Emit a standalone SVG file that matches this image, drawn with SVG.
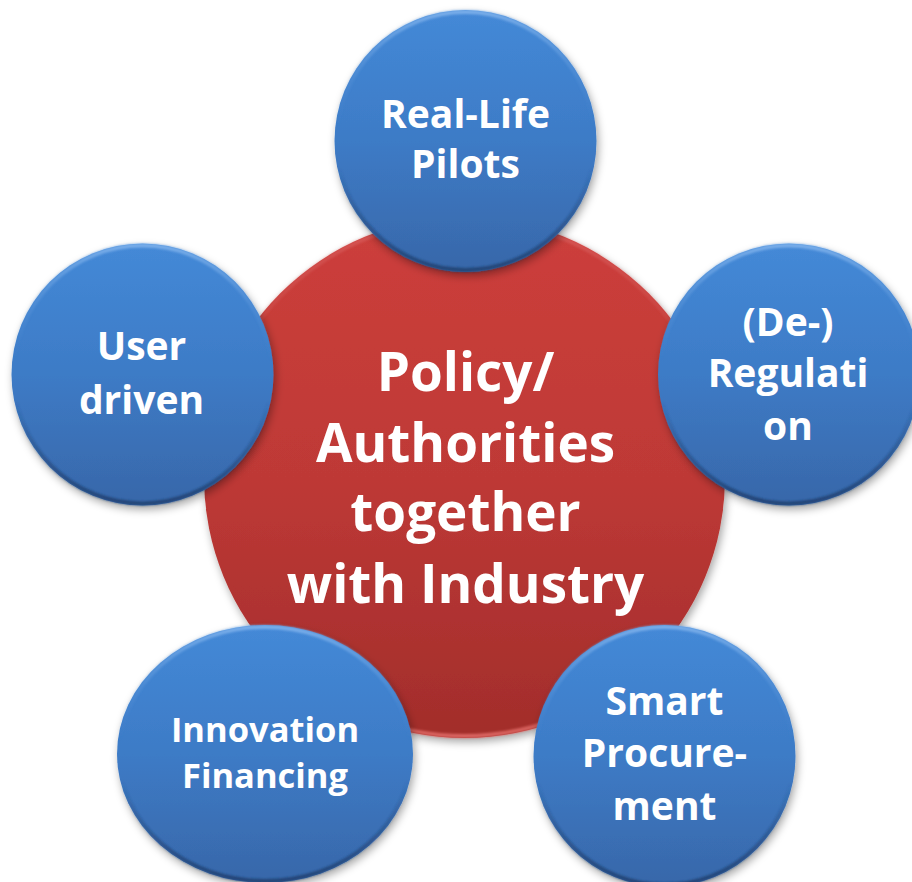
<svg xmlns="http://www.w3.org/2000/svg" width="912" height="882" viewBox="0 0 912 882">
  <defs>
    <linearGradient id="gBlue" x1="0" y1="0" x2="0" y2="1">
      <stop offset="0" stop-color="#4489D7"/>
      <stop offset="0.5" stop-color="#3D7BC6"/>
      <stop offset="1" stop-color="#3867A9"/>
    </linearGradient>
    <linearGradient id="gRed" x1="0" y1="0" x2="0" y2="1">
      <stop offset="0" stop-color="#CD3F3B"/>
      <stop offset="0.5" stop-color="#BE3936"/>
      <stop offset="1" stop-color="#A22D2B"/>
    </linearGradient>
    <linearGradient id="gBevelBlue" x1="0" y1="0" x2="0" y2="1">
      <stop offset="0" stop-color="#7FB2EC" stop-opacity="0.9"/>
      <stop offset="0.45" stop-color="#3F80CC" stop-opacity="0"/>
      <stop offset="0.6" stop-color="#1E3F6E" stop-opacity="0"/>
      <stop offset="1" stop-color="#1E3F6E" stop-opacity="0.85"/>
    </linearGradient>
    <linearGradient id="gBevelRed" x1="0" y1="0" x2="0" y2="1">
      <stop offset="0" stop-color="#E07070" stop-opacity="0.5"/>
      <stop offset="0.5" stop-color="#C03A36" stop-opacity="0"/>
      <stop offset="0.85" stop-color="#E06A66" stop-opacity="0"/>
      <stop offset="1" stop-color="#E06A66" stop-opacity="0.9"/>
    </linearGradient>
    <filter id="shadow" x="-20%" y="-20%" width="140%" height="140%">
      <feDropShadow dx="2" dy="4" stdDeviation="4" flood-color="#000" flood-opacity="0.35"/>
    </filter>
    <filter id="soft" x="-10%" y="-10%" width="120%" height="120%">
      <feGaussianBlur stdDeviation="1.2"/>
    </filter>
  </defs>
  <style>
    .blue { fill: url(#gBlue); filter: url(#shadow); }
    .red { fill: url(#gRed); filter: url(#shadow); }
    .bevB { fill: none; stroke: url(#gBevelBlue); stroke-width: 4; filter: url(#soft); }
    .bevR { fill: none; stroke: url(#gBevelRed); stroke-width: 4; filter: url(#soft); }
    text { font-family: "Open Sans", "Liberation Sans", sans-serif; font-weight: bold; fill: #FFFFFF; text-anchor: middle; }
    .big { font-size: 53px; }
    .mid { font-size: 39px; }
    .sm { font-size: 34.5px; }
  </style>

  <g id="center">
    <circle class="red" cx="464.5" cy="477.5" r="260.5"/>
    <circle class="bevR" cx="464.5" cy="477.5" r="258.5"/>
    <text class="big" x="465.5" y="391">Policy/</text>
    <text class="big" x="465.5" y="462">Authorities</text>
    <text class="big" x="465.5" y="531">together</text>
    <text class="big" x="465.5" y="603">with Industry</text>
  </g>

  <g id="real-life-pilots">
    <circle class="blue" cx="465.5" cy="141" r="131"/>
    <circle class="bevB" cx="465.5" cy="141" r="129"/>
    <text class="mid" x="465.5" y="128">Real-Life</text>
    <text class="mid" x="465.5" y="178">Pilots</text>
  </g>

  <g id="user-driven">
    <circle class="blue" cx="142.5" cy="374.5" r="131"/>
    <circle class="bevB" cx="142.5" cy="374.5" r="129"/>
    <text class="mid" x="141.5" y="360">User</text>
    <text class="mid" x="141.5" y="414">driven</text>
  </g>

  <g id="de-regulation">
    <circle class="blue" cx="789" cy="374.5" r="131"/>
    <circle class="bevB" cx="789" cy="374.5" r="129"/>
    <text class="mid" x="788" y="336">(De-)</text>
    <text class="mid" x="788" y="387">Regulati</text>
    <text class="mid" x="788" y="440">on</text>
  </g>

  <g id="innovation-financing">
    <ellipse class="blue" cx="265" cy="754" rx="148" ry="129"/>
    <ellipse class="bevB" cx="265" cy="754" rx="146" ry="127"/>
    <text class="sm" x="265" y="742">Innovation</text>
    <text class="sm" x="265" y="788">Financing</text>
  </g>

  <g id="smart-procurement">
    <circle class="blue" cx="664.5" cy="756" r="131"/>
    <circle class="bevB" cx="664.5" cy="756" r="129"/>
    <text class="mid" x="664.5" y="715">Smart</text>
    <text class="mid" x="664.5" y="767">Procure-</text>
    <text class="mid" x="664.5" y="820">ment</text>
  </g>
</svg>
